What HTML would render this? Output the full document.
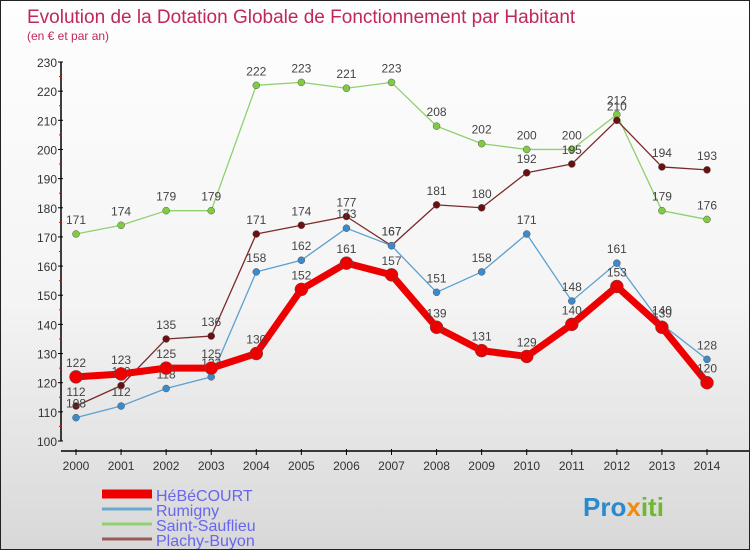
<!DOCTYPE html>
<html><head><meta charset="utf-8"><style>
body{margin:0}
#wrap{width:750px;height:550px;position:relative;overflow:hidden;background:linear-gradient(#fefefe 0%,#f4f4f4 55%,#d8d8d8 100%);font-family:"Liberation Sans",sans-serif;border:1px solid #222;box-sizing:border-box}
</style></head><body>
<div id="wrap">
<svg id="c" width="750" height="550"></svg>
</div>
<script>
const years=[2000,2001,2002,2003,2004,2005,2006,2007,2008,2009,2010,2011,2012,2013,2014];
const hebecourt=[122,123,125,125,130,152,161,157,139,131,129,140,153,139,120];
const rumigny=[108,112,118,122,158,162,173,167,151,158,171,148,161,140,128];
const saintSauflieu=[171,174,179,179,222,223,221,223,208,202,200,200,212,179,176];
const plachy=[112,119,135,136,171,174,177,167,181,180,192,195,210,194,193];
const yTicks=[100,110,120,130,140,150,160,170,180,190,200,210,220,230];
const seriesNames=["HéBéCOURT","Rumigny","Saint-Sauflieu","Plachy-Buyon"];
const NS="http://www.w3.org/2000/svg";
const svg=document.getElementById('c');
const x=i=>75+i*(706-75)/14;
const y=v=>440-(v-100)*(440-61)/130;
function mk(t,a,p){const e=document.createElementNS(NS,t);for(const k in a)e.setAttribute(k,a[k]);(p||svg).appendChild(e);return e;}
let t=mk('text',{x:26,y:22,'font-size':19,fill:'#c0285a'});t.textContent="Evolution de la Dotation Globale de Fonctionnement par Habitant";

t=mk('text',{x:26,y:39,'font-size':12,fill:'#c0285a'});t.textContent="(en € et par an)";

let ax=mk('line',{x1:60,y1:61,x2:60,y2:440,stroke:'#000','stroke-width':1.5});

yTicks.forEach(v=>{mk('line',{x1:57,y1:y(v),x2:62,y2:y(v),stroke:'#000'});
 if(v<230)mk('line',{x1:58,y1:y(v+5),x2:61,y2:y(v+5),stroke:'#e00'});
 const l=mk('text',{x:56,y:y(v)+5,'font-size':12,fill:'#333','text-anchor':'end'});l.textContent=v;
 });
ax=mk('line',{x1:60,y1:450,x2:750,y2:450,stroke:'#000','stroke-width':1.5});

years.forEach((yr,i)=>{mk('line',{x1:x(i),y1:448,x2:x(i),y2:454,stroke:'#000'});
 const l=mk('text',{x:x(i),y:469,'font-size':12,fill:'#333','text-anchor':'middle'});l.textContent=yr;
 });
function series(data,color,w,r,dot,name){
 const g=mk('g',{});
 mk('polyline',{points:data.map((v,i)=>x(i)+','+y(v)).join(' '),fill:'none',stroke:color,'stroke-width':w,'stroke-linejoin':'round'},g);
 data.forEach((v,i)=>{const c=mk('circle',{cx:x(i),cy:y(v),r:r,fill:dot,stroke:'#555','stroke-width':0.5},g);
  
  const l=mk('text',{x:x(i),y:y(v)-10,'font-size':12,fill:'#444','text-anchor':'middle'},g);l.textContent=v;});
}
series(saintSauflieu,'#90d070',1.3,3.5,'#80cc40','series-saint-sauflieu');
series(plachy,'#7a2a2a',1.3,3.5,'#6a1010','series-plachy-buyon');
series(rumigny,'#5aa0d0',1.3,3.5,'#3a8acc','series-rumigny');
series(hebecourt,'#ee0000',7,6.5,'#ee0000','series-hebecourt');
const lg=[['#ee0000',9],['#6aa8d0',3],['#90d070',3],['#9a5a5a',3]];
seriesNames.forEach((n,i)=>{const yy=493+i*15;
 const g=mk('g',{});
 mk('line',{x1:101,y1:yy,x2:151,y2:yy,stroke:lg[i][0],'stroke-width':lg[i][1]},g);
 const l=mk('text',{x:155,y:yy+7,'font-size':16,fill:'#6666ee'},g);l.textContent=n;});
const logo=mk('text',{x:582,y:515,'font-size':26,'font-weight':'bold',fill:'#2a8ad0'});

[['Pro','#2a8ad0'],['x','#f08a10'],['iti','#70b830']].forEach(p=>{const s=mk('tspan',{fill:p[1]},logo);s.textContent=p[0];});
</script>
</body></html>
